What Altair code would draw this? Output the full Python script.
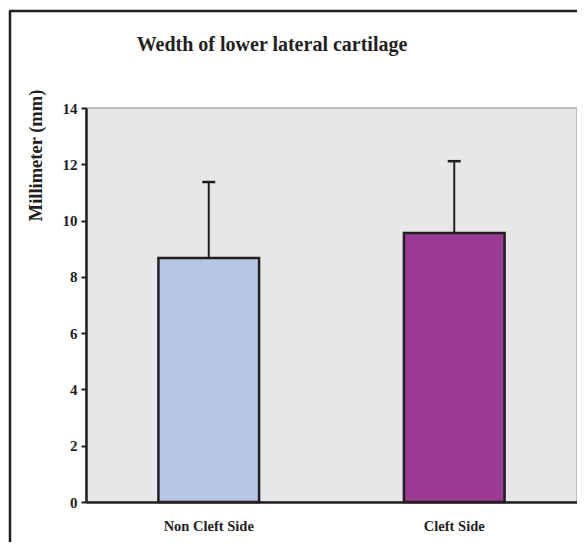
import altair as alt
import pandas as pd

categories = ["Non Cleft Side", "Cleft Side"]
means = [8.67, 9.56]
sds = [2.70, 2.55]
colors = ["#b7c5e4", "#9b3b93"]
y_ticks = [0, 2, 4, 6, 8, 10, 12, 14]
title_text = "Wedth of lower lateral cartilage"

df = pd.DataFrame({
    "cat": categories,
    "value": means,
    "sd": sds,
})
df["top"] = df["value"] + df["sd"]

INK = "#231f20"
FONT = "Liberation Serif"

xenc = alt.X(
    "cat:N",
    sort=categories,
    scale=alt.Scale(paddingInner=0.59, paddingOuter=0.295),
    axis=alt.Axis(
        title=None, labelAngle=0, ticks=False, labelPadding=17,
        labelFont=FONT, labelFontWeight="bold", labelFontSize=14.5, labelColor=INK,
        domainColor=INK, domainWidth=2.5,
    ),
)
yscale = alt.Scale(domain=[0, 14], nice=False, zero=True)

base = alt.Chart(df).encode(x=xenc)

err = base.mark_rule(color=INK, strokeWidth=2).encode(
    y=alt.Y("value:Q", scale=yscale,
            axis=alt.Axis(
                title="Millimeter (mm)", values=y_ticks, grid=False,
                tickSize=5, tickWidth=2, tickColor=INK, labelPadding=4,
                labelFont=FONT, labelFontWeight="bold", labelFontSize=15, labelColor=INK,
                domainColor=INK, domainWidth=2.5,
                titleFont=FONT, titleFontWeight="bold", titleFontSize=18.5, titleColor=INK,
                titleAngle=270, titleX=-51, titleY=47, titleAlign="center",
                titleBaseline="middle",
            )),
    y2="top:Q",
)
cap = base.mark_tick(orient="horizontal", size=13, thickness=2.5, color=INK, opacity=1).encode(
    y=alt.Y("top:Q", scale=yscale)
)
bars = base.mark_bar(stroke=INK, strokeWidth=2.5, opacity=1).encode(
    y=alt.Y("value:Q", scale=yscale),
    color=alt.Color("cat:N", scale=alt.Scale(domain=categories, range=colors), legend=None),
)

frame_data = alt.Data(values=[{"t": title_text}])
left_line = alt.Chart(frame_data).mark_rule(color=INK, strokeWidth=2.5, clip=False).encode(
    x=alt.value(-76), y=alt.value(-97), y2=alt.value(450)
)
top_line = alt.Chart(frame_data).mark_rule(color=INK, strokeWidth=2.5, clip=False).encode(
    x=alt.value(-77), x2=alt.value(505), y=alt.value(-97)
)
title = alt.Chart(frame_data).mark_text(
    font=FONT, fontSize=20, fontWeight="bold", color=INK,
    align="center", baseline="alphabetic", clip=False,
).encode(
    x=alt.value(186), y=alt.value(-57), text="t:N"
)

chart = alt.layer(err, cap, bars, left_line, top_line, title).properties(
    width=491,
    height=394,
    padding={"left": 78, "top": 100, "right": 0, "bottom": 40},
    autosize=alt.AutoSizeParams(type="none"),
    background="white",
).configure_view(
    fill="#e6e7e9", stroke="#bcbdc0", strokeWidth=2,
)

chart.save("out.html", embed_options={"renderer": "svg", "actions": False})
